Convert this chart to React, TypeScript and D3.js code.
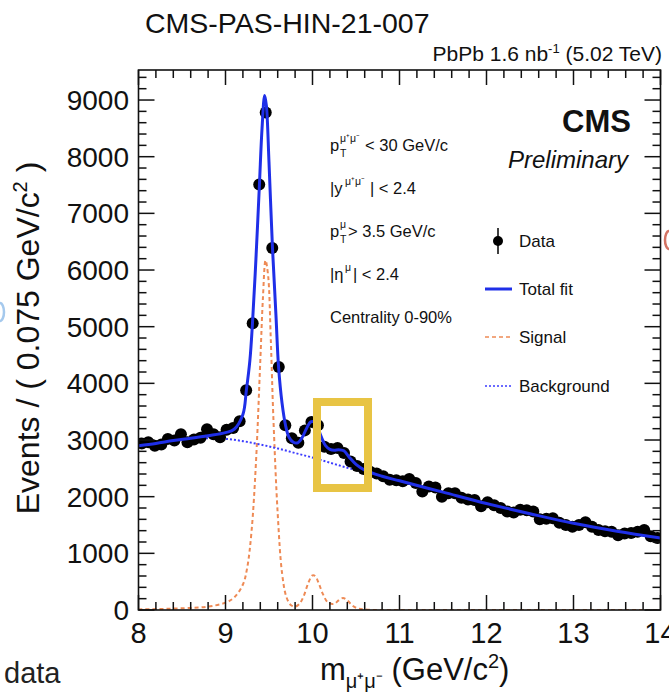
import React from "react";
import * as d3 from "d3";

// ---- data ----
const binCenters: number[] = [
  8.0375, 8.1125, 8.1875, 8.2625, 8.3375, 8.4125, 8.4875, 8.5625, 8.6375, 8.7125,
  8.7875, 8.8625, 8.9375, 9.0125, 9.0875, 9.1625, 9.2375, 9.3125, 9.3875, 9.4625,
  9.5375, 9.6125, 9.6875, 9.7625, 9.8375, 9.9125, 9.9875, 10.0625, 10.1375, 10.2125,
  10.2875, 10.3625, 10.4375, 10.5125, 10.5875, 10.6625, 10.7375, 10.8125, 10.8875, 10.9625,
  11.0375, 11.1125, 11.1875, 11.2625, 11.3375, 11.4125, 11.4875, 11.5625, 11.6375, 11.7125,
  11.7875, 11.8625, 11.9375, 12.0125, 12.0875, 12.1625, 12.2375, 12.3125, 12.3875, 12.4625,
  12.5375, 12.6125, 12.6875, 12.7625, 12.8375, 12.9125, 12.9875, 13.0625, 13.1375, 13.2125,
  13.2875, 13.3625, 13.4375, 13.5125, 13.5875, 13.6625, 13.7375, 13.8125, 13.8875, 13.9625,
];
const dataCounts: number[] = [
  2940, 2960, 2900, 2920, 3020, 2990, 3100, 2960, 3010, 3040,
  3190, 3100, 3050, 3180, 3210, 3330, 3880, 5060, 7510, 8780,
  6390, 4290, 3260, 3030, 2950, 3170, 3320, 3260, 2880, 2840,
  2860, 2770, 2620, 2540, 2490, 2440, 2410, 2360, 2300, 2290,
  2270, 2310, 2240, 2090, 2180, 2160, 2000, 2060, 2060, 1980,
  1950, 1940, 1830, 1900, 1850, 1800, 1740, 1720, 1770, 1760,
  1740, 1600, 1610, 1620, 1540, 1500, 1470, 1500, 1550, 1470,
  1410, 1390, 1380, 1320, 1350, 1360, 1380, 1410, 1300, 1270,
];

const fitX: number[] = [
  8.0, 8.2, 8.4, 8.6, 8.8, 9.0, 9.1, 9.2, 9.24, 9.28, 9.31, 9.35, 9.39, 9.42, 9.45,
  9.47, 9.5, 9.54, 9.58, 9.61, 9.65, 9.69, 9.73, 9.78, 9.83, 9.88, 9.93, 9.98, 10.02,
  10.06, 10.1, 10.15, 10.2, 10.25, 10.3, 10.36, 10.42, 10.5, 10.6, 10.8, 11.0, 11.5,
  12.0, 12.5, 13.0, 13.5, 14.0,
];
const fitY: number[] = [
  2900, 2940, 2990, 3030, 3075, 3130, 3190, 3450, 3880, 4400, 5060, 6200, 7510, 8500, 9080,
  8900, 7900, 6390, 5200, 4290, 3650, 3260, 3050, 2960, 2950, 3040, 3200, 3320, 3320,
  3220, 3060, 2900, 2835, 2820, 2830, 2810, 2700, 2570, 2470, 2360, 2280, 2080,
  1880, 1700, 1530, 1390, 1270,
];

const bkgX: number[] = [
  8.0, 8.3, 8.6, 8.8, 9.0, 9.2, 9.4, 9.6, 9.8, 10.0, 10.2, 10.4, 10.6, 10.8, 11.0,
  11.5, 12.0, 12.5, 13.0, 13.5, 14.0,
];
const bkgY: number[] = [
  2890, 2960, 3010, 3030, 3020, 2980, 2920, 2850, 2770, 2690, 2600, 2510, 2430, 2350, 2280,
  2080, 1880, 1700, 1530, 1390, 1270,
];

const sigX: number[] = [
  8.0, 8.5, 8.8, 9.0, 9.1, 9.2, 9.25, 9.3, 9.35, 9.4, 9.43, 9.46, 9.49, 9.52, 9.55,
  9.6, 9.65, 9.7, 9.75, 9.8, 9.85, 9.9, 9.95, 10.0, 10.03, 10.07, 10.12, 10.18, 10.25,
  10.3, 10.35, 10.4, 10.45, 10.5, 10.6, 11.0, 12.0, 13.0, 14.0,
];
const sigY: number[] = [
  10, 30, 60, 130, 220, 450, 750, 1400, 2600, 4400, 5500, 6170, 5900, 4800, 3400,
  1700, 650, 230, 90, 60, 110, 250, 470, 610, 600, 480, 280, 130, 110,
  170, 210, 170, 90, 40, 10, 0, 0, 0, 0,
];

const xTicks: number[] = [8, 9, 10, 11, 12, 13, 14];
const yTicks: number[] = [0, 1000, 2000, 3000, 4000, 5000, 6000, 7000, 8000, 9000];

const cutLines: { main: string; sup: string; sub: string; rest: string }[] = [
  { main: "p", sup: "μ⁺μ⁻", sub: "T", rest: " < 30 GeV/c" },
  { main: "|y", sup: "μ⁺μ⁻", sub: "", rest: "| < 2.4" },
  { main: "p", sup: "μ", sub: "T", rest: " > 3.5 GeV/c" },
  { main: "|η", sup: "μ", sub: "", rest: "| < 2.4" },
  { main: "Centrality 0-90%", sup: "", sub: "", rest: "" },
];
const legendLabels: string[] = ["Data", "Total fit", "Signal", "Background"];

// ---- layout ----
const W = 669;
const H = 693;
const L = 138.5;
const R = 660.5;
const T = 70;
const B = 610;

const FONT = "'Liberation Sans', Arial, Helvetica, sans-serif";

export default function App() {
  const x = d3.scaleLinear().domain([8, 14]).range([L, R]);
  const y = d3.scaleLinear().domain([0, 9530]).range([B, T]);

  const lineGen = d3
    .line<[number, number]>()
    .x((d) => x(d[0]))
    .y((d) => y(d[1]))
    .curve(d3.curveCatmullRom.alpha(0.5));

  const fitPath = lineGen(fitX.map((v, i) => [v, fitY[i]] as [number, number])) || "";
  const bkgPath = lineGen(bkgX.map((v, i) => [v, bkgY[i]] as [number, number])) || "";
  const sigPath = lineGen(sigX.map((v, i) => [v, sigY[i]] as [number, number])) || "";

  const xMinor = d3.range(8, 14.001, 0.2);
  const yMinor = d3.range(0, 9530, 200);

  const fitColor = "#1f2fe8";
  const sigColor = "#ee8a55";
  const bkgColor = "#3b3bff";

  const legY = [241, 289, 337, 386];

  return (
    <svg width={W} height={H} style={{ display: "block", position: "absolute", left: 0, top: 0 }} fontFamily={FONT}>
      <rect x={0} y={0} width={W} height={H} fill="#fff" />
      <defs>
        <clipPath id="plotclip">
          <rect x={L} y={T} width={R - L} height={B - T} />
        </clipPath>
      </defs>

      {/* slide fragments at the edges */}
      <path d="M0,303 A4,9 0 0 1 0,321" fill="none" stroke="#8fbbe8" strokeWidth={2.5} opacity={0.8} />
      <path d="M669,231 A4,9 0 0 0 669,249" fill="none" stroke="#c8503c" strokeWidth={2.5} opacity={0.8} />

      {/* header */}
      <text x={145} y={33} fontSize={28.5} fill="#111">CMS-PAS-HIN-21-007</text>
      <text x={662} y={61} fontSize={21} textAnchor="end" fill="#111">
        PbPb 1.6 nb<tspan dy={-8} fontSize={13}>-1</tspan>
        <tspan dy={8}> (5.02 TeV)</tspan>
      </text>

      {/* curves */}
      <g clipPath="url(#plotclip)">
        <path d={sigPath} fill="none" stroke={sigColor} strokeWidth={2} strokeDasharray="4,3" />
        <path d={bkgPath} fill="none" stroke={bkgColor} strokeWidth={2} strokeDasharray="2,2" />
        {binCenters.map((c, i) => {
          const e = Math.sqrt(dataCounts[i]);
          return (
            <line key={"e" + i} x1={x(c)} x2={x(c)} y1={y(dataCounts[i] - e)} y2={y(dataCounts[i] + e)} stroke="#000" strokeWidth={1.5} />
          );
        })}
        {binCenters.map((c, i) => (
          <circle key={"p" + i} cx={x(c)} cy={y(dataCounts[i])} r={6} fill="#000" />
        ))}
        <path d={fitPath} fill="none" stroke={fitColor} strokeWidth={3} />
      </g>

      {/* frame */}
      <rect x={L} y={T} width={R - L} height={B - T} fill="none" stroke="#111" strokeWidth={1.6} />
      {xMinor.map((v, i) => {
        const isMajor = Math.abs(v - Math.round(v)) < 1e-6;
        const len = isMajor ? 15 : 8;
        return (
          <g key={"xt" + i}>
            <line x1={x(v)} x2={x(v)} y1={B} y2={B - len} stroke="#111" strokeWidth={1.5} />
            <line x1={x(v)} x2={x(v)} y1={T} y2={T + len} stroke="#111" strokeWidth={1.5} />
          </g>
        );
      })}
      {yMinor.map((v, i) => {
        const isMajor = v % 1000 === 0;
        const len = isMajor ? 16 : 8;
        return (
          <g key={"yt" + i}>
            <line x1={L} x2={L + len} y1={y(v)} y2={y(v)} stroke="#111" strokeWidth={1.5} />
            <line x1={R} x2={R - len} y1={y(v)} y2={y(v)} stroke="#111" strokeWidth={1.5} />
          </g>
        );
      })}

      {/* tick labels */}
      {xTicks.map((v) => (
        <text key={"xl" + v} x={x(v)} y={643} fontSize={29} textAnchor="middle" fill="#111">
          {v}
        </text>
      ))}
      {yTicks.map((v) => (
        <text key={"yl" + v} x={129} y={y(v)} dy="0.36em" fontSize={28} textAnchor="end" fill="#111">
          {v}
        </text>
      ))}

      {/* axis titles */}
      <text transform="translate(39,338) rotate(-90)" fontSize={32} textAnchor="middle" fill="#111">
        Events / ( 0.075 GeV/c<tspan dy={-12} fontSize={20}>2</tspan>
        <tspan dy={12}> )</tspan>
      </text>
      <text x={320} y={680} fontSize={31} fill="#111">
        m<tspan dy={8} fontSize={20}>μ⁺μ⁻</tspan>
        <tspan dy={-8}> (GeV/c</tspan>
        <tspan dy={-12} fontSize={20}>2</tspan>
        <tspan dy={12}>)</tspan>
      </text>
      <text x={4} y={683} fontSize={29} fill="#222">data</text>

      {/* CMS label */}
      <text x={631} y={132} fontSize={31} fontWeight="bold" textAnchor="end" fill="#111">CMS</text>
      <text x={628} y={168} fontSize={24} fontStyle="italic" textAnchor="end" fill="#111">Preliminary</text>

      {/* cuts */}
      {cutLines.map((c, i) => {
        const by = 151 + i * 43;
        const mainW = c.main === "p" ? 10 : c.main.length > 3 ? 0 : 15;
        if (!c.sup) {
          return (
            <text key={"c" + i} x={330} y={by} fontSize={16.5} fill="#111">{c.main}</text>
          );
        }
        const supW = c.sup.length > 1 ? 25 : 8;
        return (
          <g key={"c" + i} fill="#111">
            <text x={330} y={by} fontSize={16.5}>{c.main}</text>
            <text x={330 + mainW} y={by - 9} fontSize={10.5}>{c.sup}</text>
            {c.sub && <text x={330 + mainW} y={by + 6} fontSize={10.5}>{c.sub}</text>}
            <text x={330 + mainW + supW} y={by} fontSize={16.5}>{c.rest}</text>
          </g>
        );
      })}

      {/* legend */}
      <g>
        <line x1={498} x2={498} y1={legY[0] - 13} y2={legY[0] + 13} stroke="#000" strokeWidth={1.5} />
        <circle cx={498} cy={legY[0]} r={5} fill="#000" />
        <line x1={485} x2={512} y1={legY[1]} y2={legY[1]} stroke={fitColor} strokeWidth={3} />
        <line x1={485} x2={512} y1={legY[2]} y2={legY[2]} stroke={sigColor} strokeWidth={1.6} strokeDasharray="4,3" />
        <line x1={485} x2={512} y1={legY[3]} y2={legY[3]} stroke={bkgColor} strokeWidth={1.6} strokeDasharray="2,2" />
        {legendLabels.map((t, i) => (
          <text key={"lg" + i} x={519} y={legY[i]} dy="0.36em" fontSize={17} fill="#111">{t}</text>
        ))}
      </g>

      {/* yellow highlight box */}
      <rect x={317} y={402} width={51} height={86} fill="none" stroke="#e8c444" strokeWidth={8} />
    </svg>
  );
}
